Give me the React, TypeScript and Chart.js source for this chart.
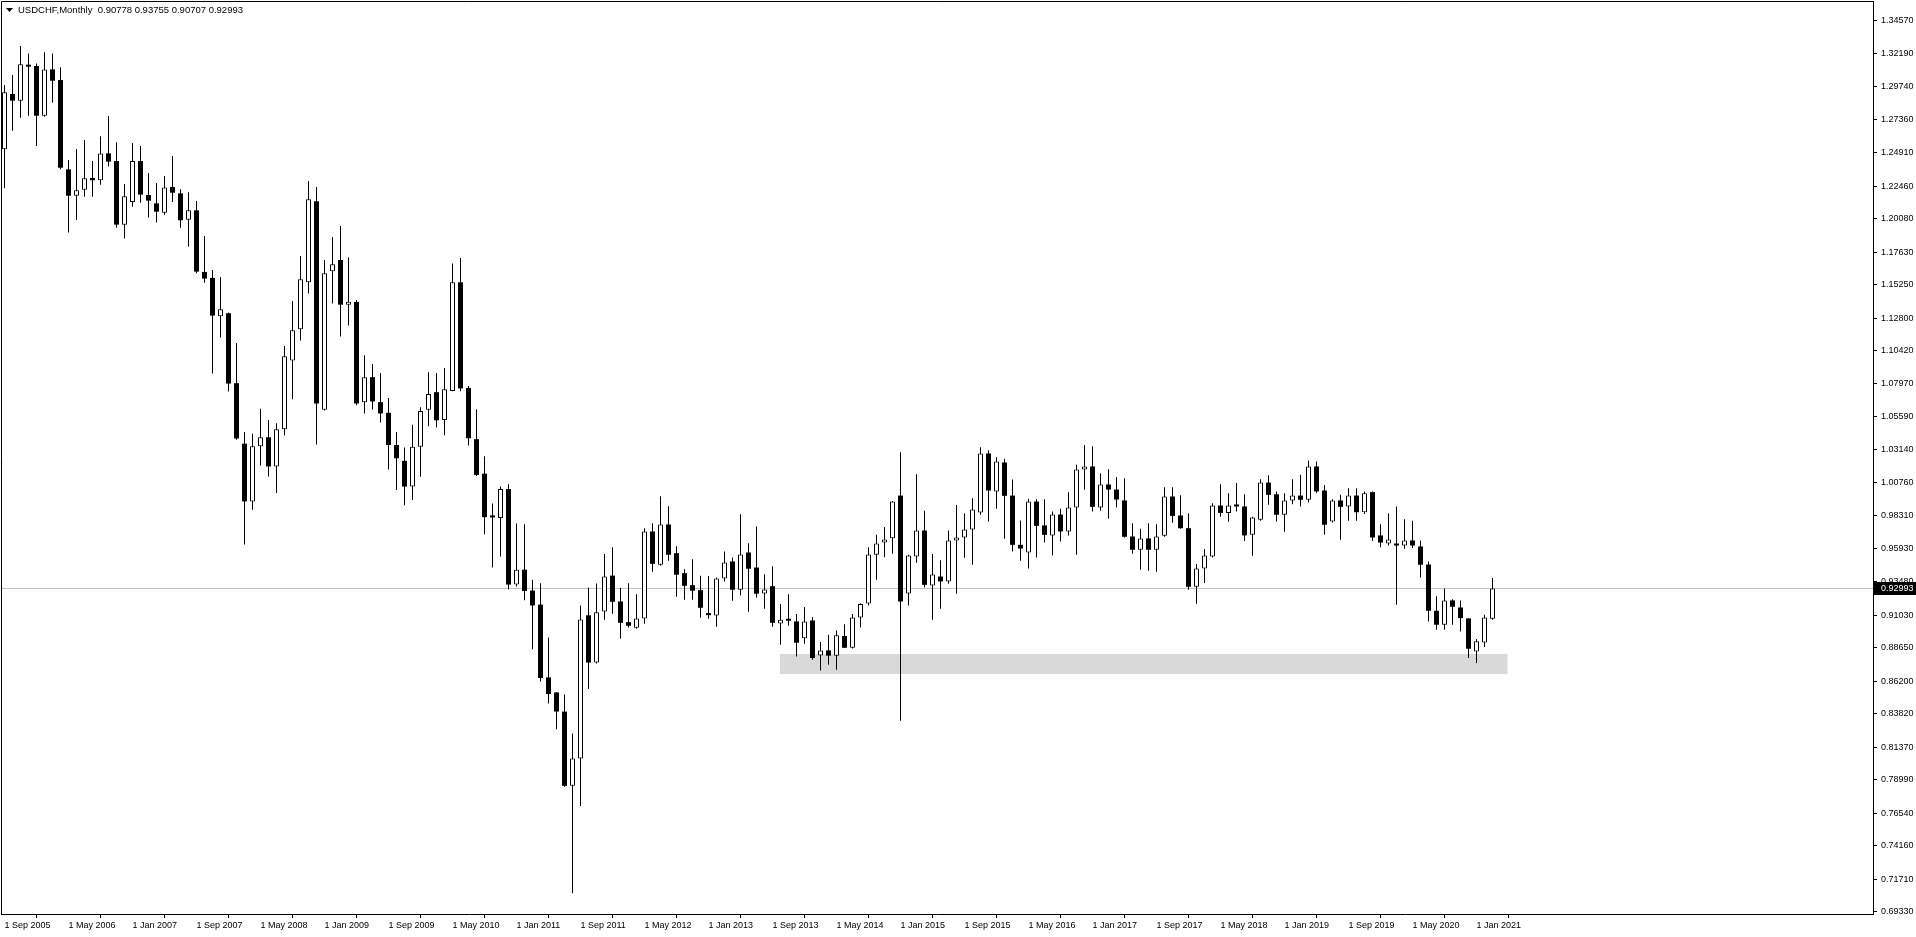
import React, { useEffect, useRef } from "react";
import { Chart, registerables } from "chart.js";

Chart.register(...registerables);

// ---------- data ----------
const SYMBOL = "USDCHF";
const TIMEFRAME = "Monthly";
const FIRST_YEAR = 2005;
const FIRST_MONTH = 8; // September (0-based)

const OPEN = [
  1.2516, 1.2921, 1.2872, 1.3133, 1.3126, 1.2762, 1.3101, 1.3023, 1.2369, 1.2176,
  1.2220, 1.2306, 1.2289, 1.2486, 1.2430, 1.1964, 1.2130, 1.2430, 1.2181, 1.2120,
  1.2052, 1.2240, 1.2193, 1.1999, 1.2069, 1.1618, 1.1574, 1.1293, 1.1315, 1.0803,
  1.0360, 0.9937, 1.0341, 1.0407, 1.0193, 1.0466, 1.0969, 1.1198, 1.1542, 1.2135,
  1.0608, 1.1622, 1.1705, 1.1378, 1.1398, 1.0664, 1.0847, 1.0664, 1.0586, 1.0350,
  1.0234, 1.0046, 1.0337, 1.0609, 1.0737, 1.0534, 1.0746, 1.1542, 1.0768, 1.0393,
  1.0140, 0.9825, 0.9815, 1.0028, 0.9328, 0.9437, 0.9284, 0.9181, 0.8648, 0.8538,
  0.8398, 0.7854, 0.8054, 0.9103, 0.8757, 0.9131, 0.9394, 0.9204, 0.9053, 0.9012,
  0.9080, 0.9717, 0.9473, 0.9768, 0.9558, 0.9412, 0.9324, 0.9287, 0.9107, 0.9102,
  0.9373, 0.9497, 0.9290, 0.9563, 0.9453, 0.9263, 0.9316, 0.9043, 0.9073, 0.9058,
  0.8934, 0.9065, 0.8809, 0.8846, 0.8807, 0.8951, 0.8865, 0.9087, 0.9190, 0.9546,
  0.9636, 0.9668, 0.9980, 0.9263, 0.9534, 0.9724, 0.9322, 0.9387, 0.9351, 0.9651,
  0.9673, 0.9731, 0.9856, 1.0288, 1.0010, 1.0222, 0.9980, 0.9619, 0.9563, 0.9936,
  0.9761, 0.9688, 0.9841, 0.9717, 0.9892, 1.0171, 1.0193, 0.9892, 1.0061, 1.0024,
  0.9944, 0.9680, 0.9583, 0.9666, 0.9583, 0.9685, 0.9973, 0.9834, 0.9741, 0.9312,
  0.9446, 0.9534, 0.9907, 0.9853, 0.9907, 0.9900, 0.9692, 0.9802, 1.0075, 0.9990,
  0.9839, 0.9944, 0.9980, 0.9949, 1.0193, 1.0017, 0.9790, 0.9944, 0.9900, 0.9980,
  0.9858, 1.0005, 0.9688, 0.9629, 0.9629, 0.9614, 0.9651, 0.9607, 0.9475, 0.9136,
  0.9034, 0.9212, 0.9160, 0.9080, 0.8838, 0.8904, 0.90778,
];

const HIGH = [
  1.2986, 1.3060, 1.3272, 1.3218, 1.3145, 1.3226, 1.3218, 1.3116, 1.2438, 1.2518,
  1.2584, 1.2430, 1.2611, 1.2760, 1.2567, 1.2262, 1.2562, 1.2540, 1.2342, 1.2269,
  1.2320, 1.2467, 1.2223, 1.2201, 1.2137, 1.1881, 1.1632, 1.1581, 1.1320, 1.1098,
  1.0446, 1.0432, 1.0615, 1.0534, 1.0510, 1.1076, 1.1405, 1.1735, 1.2284, 1.2240,
  1.1706, 1.1874, 1.1955, 1.1725, 1.1413, 1.1008, 1.0944, 1.0878, 1.0695, 1.0446,
  1.0331, 1.0499, 1.0627, 1.0883, 1.0877, 1.0915, 1.1680, 1.1720, 1.0783, 1.0612,
  1.0268, 0.9922, 1.0047, 1.0062, 0.9775, 0.9769, 0.9363, 0.9338, 0.8941, 0.8541,
  0.8523, 0.8238, 0.9175, 0.9306, 0.9335, 0.9551, 0.9602, 0.9302, 0.9338, 0.9258,
  0.9741, 0.9778, 0.9975, 0.9902, 0.9609, 0.9441, 0.9514, 0.9392, 0.9390, 0.9380,
  0.9570, 0.9526, 0.9843, 0.9631, 0.9753, 0.9404, 0.9463, 0.9185, 0.9258, 0.9112,
  0.9163, 0.9090, 0.8907, 0.8960, 0.8992, 0.9038, 0.9112, 0.9192, 0.9602, 0.9692,
  0.9749, 0.9940, 1.0298, 0.9546, 1.0136, 0.9868, 0.9551, 0.9507, 0.9724, 0.9910,
  0.9851, 0.9961, 1.0334, 1.0312, 1.0261, 1.0249, 1.0097, 0.9797, 0.9956, 0.9953,
  0.9953, 0.9863, 0.9883, 1.0005, 1.0205, 1.0351, 1.0341, 1.0144, 1.0173, 1.0115,
  1.0107, 0.9778, 0.9736, 0.9778, 0.9770, 1.0041, 1.0041, 0.9983, 0.9851, 0.9478,
  0.9588, 0.9924, 1.0063, 0.9997, 1.0071, 0.9990, 0.9825, 1.0100, 1.0129, 1.0010,
  0.9997, 1.0100, 1.0132, 1.0237, 1.0229, 1.0058, 0.9953, 0.9985, 1.0034, 1.0034,
  1.0010, 1.0010, 0.9770, 0.9851, 0.9900, 0.9807, 0.9795, 0.9651, 0.9497, 0.9243,
  0.9300, 0.9221, 0.9212, 0.9082, 0.8929, 0.9107, 0.93755,
];

const LOW = [
  1.2230, 1.2652, 1.2747, 1.2762, 1.2540, 1.2755, 1.2857, 1.2369, 1.1906, 1.1998,
  1.2169, 1.2169, 1.2257, 1.2389, 1.1942, 1.1862, 1.2096, 1.2125, 1.2016, 1.1979,
  1.2037, 1.2130, 1.1942, 1.1803, 1.1608, 1.1539, 1.0873, 1.1137, 1.0742, 1.0388,
  0.9622, 0.9876, 1.0200, 1.0120, 0.9998, 1.0420, 1.0686, 1.1115, 1.1459, 1.0354,
  1.0603, 1.1386, 1.1144, 1.1225, 1.0642, 1.0581, 1.0610, 1.0515, 1.0170, 1.0021,
  0.9909, 0.9947, 1.0118, 1.0487, 1.0478, 1.0421, 1.0743, 1.0743, 1.0346, 1.0124,
  0.9697, 0.9453, 0.9534, 0.9291, 0.9313, 0.9213, 0.8854, 0.8619, 0.8457, 0.8269,
  0.7848, 0.7067, 0.7707, 0.8563, 0.8750, 0.9070, 0.9114, 0.8931, 0.9014, 0.9004,
  0.9041, 0.9422, 0.9465, 0.9502, 0.9239, 0.9217, 0.9217, 0.9085, 0.9077, 0.9019,
  0.9351, 0.9209, 0.9248, 0.9129, 0.9234, 0.9151, 0.9019, 0.8887, 0.9026, 0.8802,
  0.8895, 0.8777, 0.8699, 0.8741, 0.8704, 0.8863, 0.8860, 0.9014, 0.9175, 0.9363,
  0.9529, 0.9553, 0.8330, 0.9175, 0.9487, 0.9307, 0.9070, 0.9151, 0.9334, 0.9261,
  0.9524, 0.9473, 0.9839, 0.9790, 0.9883, 0.9663, 0.9570, 0.9502, 0.9446, 0.9526,
  0.9636, 0.9541, 0.9644, 0.9688, 0.9546, 1.0022, 0.9863, 0.9868, 0.9810, 0.9892,
  0.9673, 0.9553, 0.9436, 0.9429, 0.9422, 0.9678, 0.9780, 0.9736, 0.9290, 0.9187,
  0.9339, 0.9526, 0.9824, 0.9788, 0.9863, 0.9648, 0.9539, 0.9795, 0.9912, 0.9790,
  0.9714, 0.9917, 0.9900, 0.9929, 0.9998, 0.9692, 0.9783, 0.9656, 0.9795, 0.9795,
  0.9844, 0.9648, 0.9602, 0.9614, 0.9180, 0.9590, 0.9595, 0.9380, 0.9058, 0.8997,
  0.8997, 0.9034, 0.8985, 0.8790, 0.8753, 0.8870, 0.90707,
];

const CLOSE = [
  1.2933, 1.2872, 1.3138, 1.3121, 1.2762, 1.3101, 1.3018, 1.2381, 1.2176, 1.2216,
  1.2303, 1.2289, 1.2486, 1.2425, 1.1964, 1.2172, 1.2430, 1.2184, 1.2140, 1.2059,
  1.2237, 1.2198, 1.1996, 1.2069, 1.1620, 1.1569, 1.1298, 1.1344, 1.0800, 1.0398,
  0.9937, 1.0341, 1.0407, 1.0193, 1.0466, 1.1000, 1.1191, 1.1564, 1.2150, 1.0654,
  1.1608, 1.1674, 1.1378, 1.1398, 1.0654, 1.0847, 1.0669, 1.0581, 1.0350, 1.0253,
  1.0046, 1.0337, 1.0599, 1.0724, 1.0531, 1.0758, 1.1542, 1.0765, 1.0400, 1.0131,
  0.9822, 0.9820, 1.0028, 0.9328, 0.9437, 0.9281, 0.9175, 0.8644, 0.8526, 0.8398,
  0.7854, 0.8054, 0.9072, 0.8757, 0.9125, 0.9387, 0.9202, 0.9048, 0.9026, 0.9080,
  0.9717, 0.9480, 0.9768, 0.9546, 0.9400, 0.9319, 0.9283, 0.9158, 0.9104, 0.9373,
  0.9490, 0.9290, 0.9548, 0.9444, 0.9261, 0.9292, 0.9048, 0.9070, 0.9063, 0.8902,
  0.9058, 0.8790, 0.8846, 0.8807, 0.8956, 0.8865, 0.9087, 0.9185, 0.9548, 0.9629,
  0.9651, 0.9936, 0.9204, 0.9541, 0.9724, 0.9326, 0.9402, 0.9351, 0.9651, 0.9673,
  0.9731, 0.9878, 1.0288, 1.0017, 1.0229, 0.9978, 0.9619, 0.9592, 0.9936, 0.9758,
  0.9692, 0.9841, 0.9717, 0.9892, 1.0171, 1.0185, 0.9897, 1.0061, 1.0024, 0.9951,
  0.9678, 0.9583, 0.9666, 0.9583, 0.9680, 0.9973, 0.9831, 0.9741, 0.9312, 0.9446,
  0.9541, 0.9907, 0.9853, 0.9907, 0.9900, 0.9688, 0.9819, 1.0075, 0.9985, 0.9839,
  0.9944, 0.9980, 0.9949, 1.0193, 1.0010, 0.9766, 0.9944, 0.9897, 0.9980, 0.9858,
  0.9997, 0.9673, 0.9636, 0.9658, 0.9614, 0.9651, 0.9614, 0.9473, 0.9136, 0.9034,
  0.9212, 0.9165, 0.9082, 0.8858, 0.8912, 0.9087, 0.92993,
];

const X_TICK_LABELS = [
  "1 Sep 2005", "1 May 2006", "1 Jan 2007", "1 Sep 2007", "1 May 2008", "1 Jan 2009",
  "1 Sep 2009", "1 May 2010", "1 Jan 2011", "1 Sep 2011", "1 May 2012", "1 Jan 2013",
  "1 Sep 2013", "1 May 2014", "1 Jan 2015", "1 Sep 2015", "1 May 2016", "1 Jan 2017",
  "1 Sep 2017", "1 May 2018", "1 Jan 2019", "1 Sep 2019", "1 May 2020", "1 Jan 2021",
];

const Y_TICKS = [
  1.3457, 1.3219, 1.2974, 1.2736, 1.2491, 1.2246, 1.2008, 1.1763, 1.1525, 1.128,
  1.1042, 1.0797, 1.0559, 1.0314, 1.0076, 0.9831, 0.9593, 0.9348, 0.9103, 0.8865,
  0.862, 0.8382, 0.8137, 0.7899, 0.7654, 0.7416, 0.7171, 0.6933,
];

// support zone (month-index span and price band)
const ZONE_FROM = 96.9;
const ZONE_TO = 187.9;
const ZONE_LOW = 0.8673;
const ZONE_HIGH = 0.8819;

// ---------- view ----------
const W = 1916;
const H = 937;
const X_MIN = -0.4375;
const X_MAX = 233.5625;
const Y_MIN = 0.69153;
const Y_MAX = 1.3602;
const FONT = '"Liberation Sans", Arial, sans-serif';

const MONTH_NAMES = ["Jan", "Feb", "Mar", "Apr", "May", "Jun", "Jul", "Aug", "Sep", "Oct", "Nov", "Dec"];

function labelToIndex(label: string): number {
  const parts = label.split(" ");
  const m = MONTH_NAMES.indexOf(parts[1]);
  const y = parseInt(parts[2], 10);
  return (y - FIRST_YEAR) * 12 + (m - FIRST_MONTH);
}

const X_TICK_MAP = new Map<number, string>(X_TICK_LABELS.map((l) => [labelToIndex(l), l]));

export default function App() {
  const ref = useRef<HTMLCanvasElement | null>(null);

  useEffect(() => {
    document.body.style.margin = "0";
    document.body.style.overflow = "hidden";
    const canvas = ref.current;
    if (!canvas) return;

    const n = CLOSE.length;
    const wicks: any[] = [];
    const bulls: any[] = [];
    const bears: any[] = [];
    for (let i = 0; i < n; i++) {
      wicks.push({ x: i, y: [LOW[i], HIGH[i]] });
      const body = { x: i, y: [OPEN[i], CLOSE[i]] };
      if (CLOSE[i] >= OPEN[i]) bulls.push(body);
      else bears.push(body);
    }
    const last = n - 1;
    const lastClose = CLOSE[last];
    const header =
      SYMBOL + "," + TIMEFRAME + "  " +
      [OPEN[last], HIGH[last], LOW[last], CLOSE[last]].map((v) => v.toFixed(5)).join(" ");

    const overlay = {
      id: "mt4overlay",
      afterDraw(chart: any) {
        const { ctx, chartArea: a } = chart;
        const y = chart.scales.y;
        ctx.save();
        // frame (left + top)
        ctx.strokeStyle = "#000";
        ctx.lineWidth = 1;
        ctx.beginPath();
        ctx.moveTo(a.left + 0.5, a.bottom);
        ctx.lineTo(a.left + 0.5, a.top + 0.5);
        ctx.lineTo(a.right, a.top + 0.5);
        ctx.stroke();
        // header
        ctx.fillStyle = "#000";
        ctx.beginPath();
        ctx.moveTo(6, 8);
        ctx.lineTo(13, 8);
        ctx.lineTo(9.5, 12);
        ctx.closePath();
        ctx.fill();
        ctx.font = "9.5px " + FONT;
        ctx.textBaseline = "middle";
        ctx.textAlign = "left";
        ctx.fillText(header, 18, 10.5);
        // current price box
        const py = y.getPixelForValue(lastClose);
        ctx.font = "9px " + FONT;
        ctx.fillStyle = "#000";
        ctx.fillRect(a.right + 1, Math.round(py) - 6, W - a.right - 1, 13);
        ctx.fillStyle = "#fff";
        ctx.fillText(lastClose.toFixed(5), a.right + 8, Math.round(py) + 0.5);
        ctx.restore();
      },
    };

    const chart = new Chart(canvas, {
      type: "bar",
      data: {
        datasets: [
          {
            type: "bar",
            label: "bull",
            data: bulls,
            backgroundColor: "#ffffff",
            borderColor: "#000000",
            borderWidth: 1,
            borderSkipped: false,
            barThickness: 5,
            maxBarThickness: 5,
            minBarLength: 3,
            inflateAmount: 0,
            grouped: false,
            order: 0,
          } as any,
          {
            type: "bar",
            label: "bear",
            data: bears,
            backgroundColor: "#000000",
            borderWidth: 0,
            barThickness: 5,
            maxBarThickness: 5,
            minBarLength: 2,
            inflateAmount: 0,
            grouped: false,
            order: 0,
          } as any,
          {
            type: "bar",
            label: "wick",
            data: wicks,
            backgroundColor: "#000000",
            borderWidth: 0,
            barThickness: 1,
            maxBarThickness: 1,
            inflateAmount: 0,
            grouped: false,
            order: 1,
          } as any,
          {
            type: "line",
            label: "price",
            data: [
              { x: X_MIN, y: lastClose },
              { x: X_MAX, y: lastClose },
            ],
            borderColor: "#c0c0c0",
            borderWidth: 1,
            pointRadius: 0,
            fill: false,
            order: 2,
          } as any,
          {
            type: "line",
            label: "zone",
            data: [
              { x: ZONE_FROM, y: ZONE_HIGH },
              { x: ZONE_TO, y: ZONE_HIGH },
            ],
            borderColor: "rgba(0,0,0,0)",
            borderWidth: 1,
            pointRadius: 0,
            fill: { value: ZONE_LOW },
            backgroundColor: "#d9d9d9",
            order: 3,
          } as any,
        ],
      },
      options: {
        responsive: false,
        animation: false,
        devicePixelRatio: 1,
        events: [],
        layout: { padding: { left: 1, top: 1, right: 0, bottom: 0 } },
        plugins: {
          legend: { display: false },
          tooltip: { enabled: false },
        },
        scales: {
          x: {
            type: "linear",
            min: X_MIN,
            max: X_MAX,
            offset: false,
            grid: {
              display: true,
              drawOnChartArea: false,
              drawTicks: true,
              tickLength: 4,
              color: "#000",
              lineWidth: 1,
            },
            border: { display: true, color: "#000", width: 1 },
            ticks: {
              autoSkip: false,
              maxRotation: 0,
              minRotation: 0,
              align: "start",
              padding: 2,
              color: "#000",
              font: { family: FONT, size: 9 },
              callback: (v: any) => X_TICK_MAP.get(Number(v)) ?? "",
            },
            afterBuildTicks: (s: any) => {
              s.ticks = Array.from(X_TICK_MAP.keys()).map((v) => ({ value: v }));
            },
            afterFit: (s: any) => {
              s.height = H - 914;
              s.paddingLeft = 0;
              s.paddingRight = 0;
            },
          } as any,
          y: {
            type: "linear",
            position: "right",
            min: Y_MIN,
            max: Y_MAX,
            grid: {
              display: true,
              drawOnChartArea: false,
              drawTicks: true,
              tickLength: 4,
              color: "#000",
              lineWidth: 1,
            },
            border: { display: true, color: "#000", width: 1 },
            ticks: {
              autoSkip: false,
              padding: 4,
              color: "#000",
              font: { family: FONT, size: 9 },
              callback: (v: any) => Number(v).toFixed(5),
            },
            afterBuildTicks: (s: any) => {
              s.ticks = Y_TICKS.map((v) => ({ value: v }));
            },
            afterFit: (s: any) => {
              s.width = W - 1873;
              s.paddingTop = 0;
              s.paddingBottom = 0;
            },
          } as any,
        },
      } as any,
      plugins: [overlay as any],
    });

    return () => chart.destroy();
  }, []);

  return (
    <div style={{ width: W, height: H, background: "#ffffff", overflow: "hidden" }}>
      <canvas ref={ref} width={W} height={H} style={{ display: "block" }} />
    </div>
  );
}
